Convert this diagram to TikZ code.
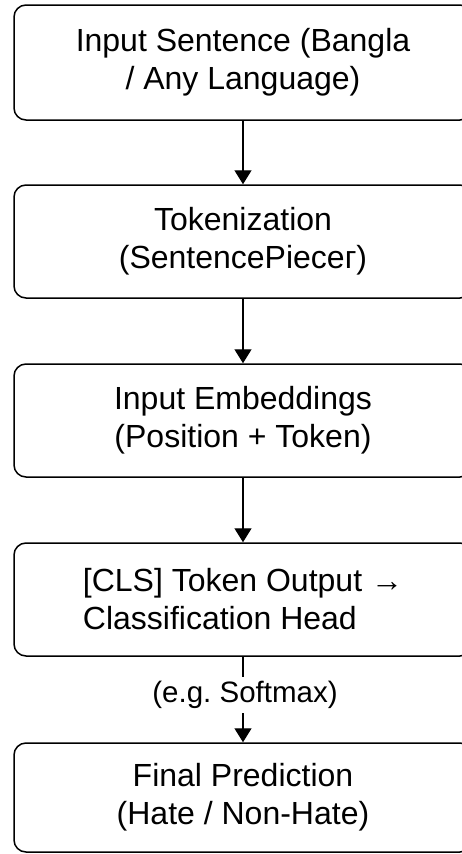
\documentclass[tikz,border=0pt]{standalone}
\usepackage{fontspec}
\setmainfont{Liberation Sans}
\usetikzlibrary{arrows.meta}
\frenchspacing
\begin{document}
\begin{tikzpicture}[x=1pt,y=-1pt,
  stage/.style={draw, line width=1.5pt, rounded corners=12pt, minimum width=458pt,
    inner sep=0pt, align=center, font=\fontsize{32}{38}\selectfont},
  flow/.style={line width=1.4pt, -{Triangle[width=17pt,length=14pt]}},
  note/.style={inner sep=0pt, minimum height=36pt, font=\fontsize{29.5}{34}\selectfont},
]
\fill[white] (0,0) rectangle (461,854);
\useasboundingbox (0,0) rectangle (461,854);

\node[stage, minimum height=115pt] (s1) at (243,62.5) {Input Sentence (Bangla\\/ Any Language)};
\node[stage, minimum height=113pt] (s2) at (243,241.5) {Tokenization\\(SentencePieceг)};
\node[stage, minimum height=113pt] (s3) at (243,420.5) {Input Embeddings\\(Position + Token)};
\node[stage, minimum height=113pt, align=left] (s4) at (243,599.5) {[CLS] Token Output →\\Classification Head};
\node[stage, minimum height=109pt] (s5) at (243,797.5) {Final Prediction\\(Hate / Non-Hate)};

\node[note] (sm) at (245,695) {(e.g.\ Softmax)};

\draw[flow] (s1) -- (s2);
\draw[flow] (s2) -- (s3);
\draw[flow] (s3) -- (s4);
\draw[line width=1.4pt] (s4.south) -- (s4.south |- sm.north);
\draw[flow] (s5.north |- sm.south) -- (s5);
\end{tikzpicture}
\end{document}
